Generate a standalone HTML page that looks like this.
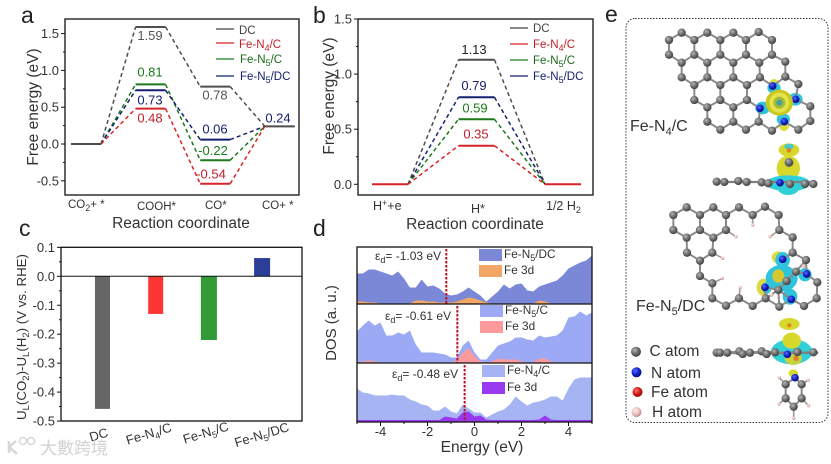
<!DOCTYPE html>
<html lang="en">
<head>
<meta charset="utf-8">
<title>Free energy, limiting potential and DOS figure</title>
<style>
html,body{margin:0;padding:0;background:#fff;}
svg{display:block;font-family:"Liberation Sans",Arial,sans-serif;}
text{fill:#333;}
.panel{font-size:23px;fill:#222;}
.title{font-size:15.5px;}
.tick{font-size:13px;}
.leg{font-size:11.5px;}
</style>
</head>
<body>
<svg id="fig" xmlns="http://www.w3.org/2000/svg" width="831" height="464" viewBox="0 0 831 464">
<defs>
<radialGradient id="gradC" cx="38%" cy="35%" r="70%"><stop offset="0" stop-color="#b5b5b5"/><stop offset=".55" stop-color="#6a6a6a"/><stop offset="1" stop-color="#3c3c3c"/></radialGradient>
<radialGradient id="gradN" cx="38%" cy="35%" r="70%"><stop offset="0" stop-color="#5a6cff"/><stop offset=".55" stop-color="#1020c8"/><stop offset="1" stop-color="#060a70"/></radialGradient>
<radialGradient id="gradFe" cx="38%" cy="35%" r="70%"><stop offset="0" stop-color="#ff7a6a"/><stop offset=".55" stop-color="#d81810"/><stop offset="1" stop-color="#801008"/></radialGradient>
<radialGradient id="gradH" cx="38%" cy="35%" r="70%"><stop offset="0" stop-color="#fff0ee"/><stop offset=".6" stop-color="#e8bcb8"/><stop offset="1" stop-color="#a88480"/></radialGradient>
</defs>

<text class="panel" x="21" y="23">a</text>
<text class="panel" x="313" y="23">b</text>
<text class="panel" x="19" y="236">c</text>
<text class="panel" x="313" y="236">d</text>
<text class="panel" x="605" y="22">e</text>

<!-- panel a -->
<g id="panelA"></g>
<rect x="65" y="19" width="234" height="176" fill="none" stroke="#111" stroke-width="1.3"/>
<text class="title" transform="translate(38,107) rotate(-90)" text-anchor="middle">Free energy (eV)</text>
<text class="title" x="181" y="228" text-anchor="middle">Reaction coordinate</text>
<g font-size="11.5">
<text x="68" y="208">CO<tspan dy="3" font-size="9">2</tspan><tspan dy="-3">+ *</tspan></text>
<text x="137" y="210">COOH*</text>
<text x="205" y="209">CO*</text>
<text x="262" y="209">CO+ *</text>
</g>
<g class="leg">
<line x1="216" x2="234" y1="29" y2="29" stroke="#444" stroke-width="1.2"/>
<line x1="216" x2="234" y1="43" y2="43" stroke="#d8232a" stroke-width="1.2"/>
<line x1="216" x2="234" y1="59" y2="59" stroke="#1a7a1a" stroke-width="1.2"/>
<line x1="216" x2="234" y1="76" y2="76" stroke="#14206e" stroke-width="1.2"/>
<text x="239" y="34" style="fill:#444">DC</text>
<text x="239" y="48" style="fill:#c02028">Fe-N<tspan dy="3" font-size="9" style="fill:#c02028">4</tspan><tspan dy="-3" style="fill:#c02028">/C</tspan></text>
<text x="240" y="63" style="fill:#1a6a1a">Fe-N<tspan dy="3" font-size="9" style="fill:#1a6a1a">5</tspan><tspan dy="-3" style="fill:#1a6a1a">/C</tspan></text>
<text x="240" y="80" style="fill:#14206e">Fe-N<tspan dy="3" font-size="9" style="fill:#14206e">5</tspan><tspan dy="-3" style="fill:#14206e">/DC</tspan></text>
</g>

<!-- panel b -->
<g id="panelB"></g>
<rect x="358" y="19" width="235" height="176" fill="none" stroke="#111" stroke-width="1.3"/>
<text class="title" transform="translate(334,96) rotate(-90)" text-anchor="middle">Free energy (eV)</text>
<text class="title" x="475" y="229" text-anchor="middle">Reaction coordinate</text>
<g font-size="12.5">
<text x="373" y="210">H<tspan dy="-4" font-size="9">+</tspan><tspan dy="4">+e</tspan></text>
<text x="471" y="213">H*</text>
<text x="546" y="210">1/2 H<tspan dy="3" font-size="9">2</tspan></text>
</g>
<g class="leg">
<line x1="510" x2="528" y1="28" y2="28" stroke="#444" stroke-width="1.2"/>
<line x1="510" x2="528" y1="44" y2="44" stroke="#d8232a" stroke-width="1.2"/>
<line x1="510" x2="528" y1="60" y2="60" stroke="#1a7a1a" stroke-width="1.2"/>
<line x1="510" x2="528" y1="76" y2="76" stroke="#14206e" stroke-width="1.2"/>
<text x="533" y="32" style="fill:#444">DC</text>
<text x="533" y="48" style="fill:#c02028">Fe-N<tspan dy="3" font-size="9" style="fill:#c02028">4</tspan><tspan dy="-3" style="fill:#c02028">/C</tspan></text>
<text x="533" y="64" style="fill:#1a6a1a">Fe-N<tspan dy="3" font-size="9" style="fill:#1a6a1a">5</tspan><tspan dy="-3" style="fill:#1a6a1a">/C</tspan></text>
<text x="533" y="80" style="fill:#14206e">Fe-N<tspan dy="3" font-size="9" style="fill:#14206e">5</tspan><tspan dy="-3" style="fill:#14206e">/DC</tspan></text>
</g>

<!-- panel c -->
<g id="panelC"></g>
<rect x="61" y="247.3" width="241" height="173.7" fill="none" stroke="#111" stroke-width="1.3"/>
<text font-size="13.3" transform="translate(26,337) rotate(-90)" text-anchor="middle">U<tspan dy="3" font-size="9.5">L</tspan><tspan dy="-3">(CO</tspan><tspan dy="3" font-size="9.5">2</tspan><tspan dy="-3">)-U</tspan><tspan dy="3" font-size="9.5">L</tspan><tspan dy="-3">(H</tspan><tspan dy="3" font-size="9.5">2</tspan><tspan dy="-3">) (V vs. RHE)</tspan></text>
<g font-size="13">
<text transform="translate(100,439) rotate(-17)" text-anchor="middle">DC</text>
<text transform="translate(150,438) rotate(-17)" text-anchor="middle">Fe-N<tspan dy="3" font-size="9">4</tspan><tspan dy="-3">/C</tspan></text>
<text transform="translate(207,437) rotate(-17)" text-anchor="middle">Fe-N<tspan dy="3" font-size="9">5</tspan><tspan dy="-3">/C</tspan></text>
<text transform="translate(263,439) rotate(-17)" text-anchor="middle">Fe-N<tspan dy="3" font-size="9">5</tspan><tspan dy="-3">/DC</tspan></text>
</g>

<!-- panel d -->
<g id="panelD"></g>
<g fill="none" stroke="#111" stroke-width="1.3">
<rect x="357" y="247" width="235" height="175"/>
<line x1="357" x2="592" y1="304" y2="304"/>
<line x1="357" x2="592" y1="363" y2="363"/>
</g>
<text font-size="15" transform="translate(336,323) rotate(-90)" text-anchor="middle">DOS (a. u.)</text>
<text class="title" x="482" y="452" text-anchor="middle">Energy (eV)</text>
<g font-size="11.8">
<rect x="479" y="249" width="23" height="12" fill="#7b88d8"/>
<rect x="479" y="265" width="23" height="12" fill="#f2a766"/>
<text x="504" y="258">Fe-N<tspan dy="3" font-size="9">5</tspan><tspan dy="-3">/DC</tspan></text>
<text x="504" y="274">Fe 3d</text>
<rect x="480" y="305" width="23" height="12" fill="#9caaf5"/>
<rect x="480" y="321" width="23" height="12" fill="#fd9a9c"/>
<text x="505" y="314">Fe-N<tspan dy="3" font-size="9">5</tspan><tspan dy="-3">/C</tspan></text>
<text x="505" y="330">Fe 3d</text>
<rect x="482" y="365" width="23" height="12" fill="#a6b4f4"/>
<rect x="482" y="382" width="23" height="12" fill="#9a39f2"/>
<text x="507" y="374">Fe-N<tspan dy="3" font-size="9">4</tspan><tspan dy="-3">/C</tspan></text>
<text x="507" y="391">Fe 3d</text>
</g>

<!-- panel e -->
<rect x="626" y="18.5" width="202" height="404" rx="9" fill="none" stroke="#333" stroke-width="1" stroke-dasharray="1.5 1.5"/>
<g transform="translate(650,20) scale(.3333)">
<ellipse cx="372" cy="192" rx="15" ry="15" fill="#dcdc40"/>
<ellipse cx="402" cy="318" rx="15" ry="15" fill="#dcdc40"/>
<ellipse cx="372" cy="204" rx="20" ry="17" fill="#30c4dc"/>
<ellipse cx="436" cy="238" rx="22" ry="19" fill="#30c4dc"/>
<ellipse cx="338" cy="264" rx="22" ry="19" fill="#30c4dc"/>
<ellipse cx="400" cy="298" rx="20" ry="18" fill="#30c4dc"/>
</g>
<g id="molA" transform="translate(650,20) scale(.3333)"></g>
<g transform="translate(650,20) scale(.3333)">
<ellipse cx="388" cy="248" rx="41" ry="39" fill="#c8c820"/>
<ellipse cx="388" cy="248" rx="30" ry="30" fill="#e4e44a"/>
<ellipse cx="388" cy="248" rx="18" ry="18" fill="#a8b838"/>
<circle cx="388" cy="248" r="9" fill="#3fa0a0"/>
</g>
<text font-size="16" x="630" y="131">Fe-N<tspan dy="4" font-size="11">4</tspan><tspan dy="-4">/C</tspan></text>

<g transform="translate(620,0) scale(.3333)">
<ellipse cx="507" cy="450" rx="31" ry="20" fill="#d8d82c"/>
<ellipse cx="507" cy="440" rx="14" ry="9" fill="#48c8c8"/>
<circle cx="507" cy="451" r="7" fill="#e08020"/>
<ellipse cx="505" cy="505" rx="35" ry="38" fill="#d8d82c"/>
<ellipse cx="505" cy="550" rx="66" ry="24" fill="#30d0d8"/>
<ellipse cx="505" cy="565" rx="32" ry="20" fill="#30d0d8"/>
<circle cx="507" cy="488" r="14" fill="#a8a040"/>
<line x1="290" x2="580" y1="546" y2="546" stroke="#808080" stroke-width="7"/>
</g>
<g id="sideA" transform="translate(620,0) scale(.3333)"></g>

<g transform="translate(650,200) scale(.3333)">
<ellipse cx="385" cy="172" rx="20" ry="18" fill="#dcdc40"/>
<ellipse cx="340" cy="262" rx="20" ry="26" fill="#dcdc40"/>
<ellipse cx="398" cy="180" rx="22" ry="24" fill="#30c4dc"/>
<ellipse cx="395" cy="235" rx="48" ry="40" fill="#30c4dc"/>
<ellipse cx="385" cy="228" rx="18" ry="20" fill="#d8c830"/>
<ellipse cx="465" cy="224" rx="20" ry="20" fill="#30c4dc"/>
<ellipse cx="420" cy="290" rx="22" ry="24" fill="#30c4dc"/>
<ellipse cx="350" cy="264" rx="14" ry="18" fill="#30c4dc"/>
</g>
<g id="molB" transform="translate(650,200) scale(.3333)"></g>
<text font-size="16" x="636" y="311">Fe-N<tspan dy="4" font-size="11">5</tspan><tspan dy="-4">/DC</tspan></text>

<g transform="translate(700,310) scale(.3333)">
<ellipse cx="268" cy="42" rx="31" ry="18" fill="#d8d82c"/>
<circle cx="268" cy="46" r="6" fill="#e08020"/>
<ellipse cx="275" cy="125" rx="62" ry="38" fill="#30d0d8"/>
<ellipse cx="275" cy="92" rx="28" ry="24" fill="#d8d82c"/>
<ellipse cx="280" cy="145" rx="26" ry="20" fill="#c8d040"/>
<circle cx="288" cy="145" r="8" fill="#e08020"/>
<ellipse cx="280" cy="190" rx="14" ry="12" fill="#d8d82c"/>
<line x1="50" x2="355" y1="128" y2="128" stroke="#808080" stroke-width="7"/>
</g>
<g id="sideB" transform="translate(700,310) scale(.3333)"></g>

<g font-size="15.5">
<circle cx="636" cy="351.7" r="5" fill="url(#gradC)"/>
<circle cx="636.5" cy="372.3" r="5" fill="url(#gradN)"/>
<circle cx="637.5" cy="392" r="5" fill="url(#gradFe)"/>
<circle cx="636.5" cy="412" r="5" fill="url(#gradH)"/>
<text x="649.5" y="356">C atom</text>
<text x="651" y="378">N atom</text>
<text x="651" y="397">Fe atom</text>
<text x="652" y="417">H atom</text>
</g>

<g>
<path d="M9 441 v12 M9 447 l7 -6 M9 447 l8 7" fill="none" stroke="#d8d8d8" stroke-width="2.5"/>
<circle cx="23" cy="441" r="3.5" fill="none" stroke="#d8d8d8" stroke-width="1.6"/>
<circle cx="31" cy="441" r="3.5" fill="none" stroke="#d8d8d8" stroke-width="1.6"/>
<text x="40" y="454" font-size="17" style="fill:#d2d2d2;font-family:'Liberation Sans','Noto Sans CJK TC',sans-serif">大數跨境</text>
</g>
</svg>

<script>
/* ---------- panel a data ---------- */
var stepCountA = ["CO2+*", "COOH*", "CO*", "CO+*"];
var aDC = [0, 1.59, 0.78, 0.24];
var aFeN4C = [0, 0.48, -0.54, 0.24];
var aFeN5C = [0, 0.81, -0.22, 0.24];
var aFeN5DC = [0, 0.73, 0.06, 0.24];
var aTicks = ["-0.5", "0.0", "0.5", "1.0", "1.5"];

/* ---------- panel b data ---------- */
var stepCountB = ["H+ + e", "H*", "1/2 H2"];
var bDC = [0, 1.13, 0];
var bFeN4C = [0, 0.35, 0];
var bFeN5C = [0, 0.59, 0];
var bFeN5DC = [0, 0.79, 0];
var bPrinted = ["1.13", "0.35", "0.59", "0.79"];
var bTicks = ["0.0", "0.5", "1.0", "1.5"];

/* ---------- panel c data ---------- */
var cCategories = ["DC", "Fe-N4/C", "Fe-N5/C", "Fe-N5/DC"];
var cValues = [-0.458, -0.13, -0.22, 0.063];
var cTicks = ["-0.5", "-0.4", "-0.3", "-0.2", "-0.1", "0.0", "0.1"];

/* ---------- panel d data ---------- */
var energy = [-5,-4.75,-4.5,-4.25,-4,-3.75,-3.5,-3.25,-3,-2.75,-2.5,-2.25,-2,-1.75,-1.5,-1.25,-1,-0.75,-0.5,-0.25,0,0.25,0.5,0.75,1,1.25,1.5,1.75,2,2.25,2.5,2.75,3,3.25,3.5,3.75,4,4.25,4.5,4.75,5];
var dosFeN5DC = [30,30,34,34,32,30,28,32,25,16,16,24,17,18,15,10,8,9,12,16,12,8,2,7,12,19,15,19,20,13,12,17,19,21,23,28,35,38,41,43,48];
var d3dFeN5DC = [2,2,1,1,0,0,0,0,0,0,3,3,2,2,1,1,1,2,4,6,5,3,1,0,0,0,0,0,0,0,0,3,2,0,0,0,0,0,0,0,0];
var dosFeN5C = [31,37,42,37,40,27,27,30,28,32,18,10,10,10,9,8,5,5,17,22,10,3,3,10,17,19,21,25,25,23,22,27,25,26,27,32,45,46,51,47,50];
var d3dFeN5C = [0,1,2,1,0,0,0,0,0,0,0,0,0,0,0,0,0,2,10,14,6,1,0,1,4,3,3,3,1,0,0,4,4,1,0,0,0,0,0,0,0];
var dosFeN4C = [33,29,28,26,26,26,27,26,26,22,20,17,16,11,11,15,10,8,17,13,9,9,4,7,10,12,17,25,20,16,19,20,22,25,25,21,33,42,44,44,44];
var d3dFeN4C = [1.5,1.5,1.5,1.5,1.5,1.5,1.5,1.5,1.5,1.5,1.5,1.5,1.5,1.5,1.5,5,4,3,9,10,5,6,2,1.5,1.5,1.5,1.5,1.5,1.5,1.5,1.5,2,6,2,1.5,1.5,1.5,1.5,1.5,1.5,1.5];
var dTicks = ["-4", "-2", "0", "2", "4"];
var dPrintedCenters = ["-1.03", "-0.61", "-0.48"];
var dMarkerEnergies = [-1.2, -0.73, -0.42];

var NS = "http://www.w3.org/2000/svg";
function mk(tag, parent, attrs, txt) {
  var el = document.createElementNS(NS, tag);
  for (var k in attrs) el.setAttribute(k, attrs[k]);
  if (txt !== undefined) el.textContent = txt;
  parent.appendChild(el);
  return el;
}

/* axis functions */
function yA(v) { return 144 - 73.6 * v; }
function xA(i) { return 71 + 64.6 * i; }
function yB(v) { return 184.3 - 110.2 * v; }
function xB(i) { return 372 + 86.5 * i; }
function yC(v) { return 276.3 - 289.5 * v; }
function xC(i) { return 102.5 + 53.2 * i; }
function xD(en) { return 474.5 + 23.5 * en; }
var dBase = [303.5, 362.5, 421.5];
function yD(p, v) { return dBase[p] - v; }

/* ---------- energy ladders ---------- */
function ladder(group, vals, color, xf, yf, w, levelFrom, levelTo) {
  for (var i = 0; i < vals.length - 1; i++) {
    var dash = mk("line", group, {x1: xf(i) + w, y1: yf(vals[i]), x2: xf(i + 1), y2: yf(vals[i + 1]), stroke: color, "stroke-width": 1.5, "stroke-dasharray": "4 3"});
    
    
  }
  for (var j = levelFrom; j <= levelTo; j++) {
    var lev = mk("line", group, {x1: xf(j), y1: yf(vals[j]), x2: xf(j) + w, y2: yf(vals[j]), stroke: color, "stroke-width": 2});
    
    
  }
}
function valueLabel(group, x, y, str, color, size) {
  var t = mk("text", group, {x: x, y: y, "text-anchor": "middle", "font-size": size});
  t.textContent = str;
  t.style.fill = color;
  
  
}
var groupA = document.getElementById("panelA");
var cGray = "#4e4e4e", cRed = "#d8232a", cGreen = "#1a7a1a", cNavy = "#14206e";
ladder(groupA, aDC, cGray, xA, yA, 30, 1, 2);
ladder(groupA, aFeN5C, cGreen, xA, yA, 30, 1, 2);
ladder(groupA, aFeN5DC, cNavy, xA, yA, 30, 1, 2);
ladder(groupA, aFeN4C, cRed, xA, yA, 30, 1, 2);
var l0 = mk("line", groupA, {x1: xA(0), x2: xA(0) + 30, y1: yA(aDC[0]), y2: yA(aDC[0]), stroke: cGray, "stroke-width": 2});


var l3 = mk("line", groupA, {x1: xA(3), x2: xA(3) + 30, y1: yA(aDC[3]), y2: yA(aDC[3]), stroke: cGray, "stroke-width": 2});


valueLabel(groupA, 150, yA(aDC[1]) + 13, aDC[1].toFixed(2), "#555", 13);
valueLabel(groupA, 150, yA(aFeN5C[1]) - 8, aFeN5C[1].toFixed(2), cGreen, 13);
valueLabel(groupA, 150, yA(aFeN5DC[1]) + 14, aFeN5DC[1].toFixed(2), cNavy, 13);
valueLabel(groupA, 150, yA(aFeN4C[1]) + 14, aFeN4C[1].toFixed(2), "#c02028", 13);
valueLabel(groupA, 215, yA(aDC[2]) + 13, aDC[2].toFixed(2), "#555", 13);
valueLabel(groupA, 215, yA(aFeN5DC[2]) - 6, aFeN5DC[2].toFixed(2), cNavy, 13);
valueLabel(groupA, 213, yA(aFeN5C[2]) - 5, aFeN5C[2].toFixed(2), cGreen, 13);
valueLabel(groupA, 211, yA(aFeN4C[2]) - 5, aFeN4C[2].toFixed(2), "#c02028", 13);
valueLabel(groupA, 278, yA(aDC[3]) - 4, aDC[3].toFixed(2), cNavy, 13);

function yAxis(group, labels, yf, xLeft, len, minorLen, minorStep, size, textGap) {
  for (var i = 0; i < labels.length; i++) {
    var v = parseFloat(labels[i]);
    var tick = mk("line", group, {x1: xLeft - len, x2: xLeft, y1: yf(v), y2: yf(v), stroke: "#111", "stroke-width": 1});
    
    
    var lab = mk("text", group, {x: xLeft - textGap, y: yf(v) + 4.5, "text-anchor": "end", "font-size": size}, labels[i]);
    
    
    if (i < labels.length - 1) {
      var mv = v + minorStep;
      var minor = mk("line", group, {x1: xLeft - minorLen, x2: xLeft, y1: yf(mv), y2: yf(mv), stroke: "#111", "stroke-width": 1});
      
      
    }
  }
}
yAxis(groupA, aTicks, yA, 65, 4, 2, 0.25, 13, 6);

var groupB = document.getElementById("panelB");
ladder(groupB, bDC, cGray, xB, yB, 36, 1, 1);
ladder(groupB, bFeN5DC, cNavy, xB, yB, 36, 1, 1);
ladder(groupB, bFeN5C, cGreen, xB, yB, 36, 1, 1);
ladder(groupB, bFeN4C, cRed, xB, yB, 36, 0, 2);
valueLabel(groupB, 474, yB(bDC[1]) - 6, bPrinted[0], "#222", 13);
valueLabel(groupB, 476, yB(bFeN4C[1]) - 7, bPrinted[1], "#c02028", 13);
valueLabel(groupB, 475, yB(bFeN5C[1]) - 7, bPrinted[2], cGreen, 13);
valueLabel(groupB, 474, yB(bFeN5DC[1]) - 7, bPrinted[3], cNavy, 13);
yAxis(groupB, bTicks, yB, 358, 4, 2, 0.25, 13, 6);

/* ---------- panel c bars ---------- */
var groupC = document.getElementById("panelC");
var barColors = ["#666666", "#fb3434", "#329a36", "#2c3f98"];
var barWidths = [15, 15, 16, 16];
for (var bi = 0; bi < cValues.length; bi++) {
  var barTop = Math.min(yC(0), yC(cValues[bi]));
  var barHeight = Math.abs(yC(cValues[bi]) - yC(0));
  var bar = mk("rect", groupC, {x: xC(bi) - barWidths[bi] / 2, y: barTop, width: barWidths[bi], height: barHeight, fill: barColors[bi]});
  
  
}
var zero = mk("line", groupC, {x1: 61, x2: 302, y1: yC(0), y2: yC(0), stroke: "#111", "stroke-width": 1});


yAxis(groupC, cTicks, yC, 61, 4, 2, 0.05, 13, 6);

/* ---------- panel d DOS ---------- */
var groupD = document.getElementById("panelD");
function area(panel, vals, fill) {
  var d = "M" + xD(energy[0]) + " " + yD(panel, 0);
  for (var i = 0; i < energy.length; i++) d += "L" + xD(energy[i]) + " " + yD(panel, vals[i]);
  d += "L" + xD(energy[energy.length - 1]) + " " + yD(panel, 0) + "Z";
  var p = mk("path", groupD, {d: d, fill: fill});
  
  
}
area(0, dosFeN5DC, "#7b88d8");
area(0, d3dFeN5DC, "#f2a766");
area(1, dosFeN5C, "#9caaf5");
area(1, d3dFeN5C, "#fd9a9c");
area(2, dosFeN4C, "#a6b4f4");
area(2, d3dFeN4C, "#9a39f2");
var markerTop = [249, 306, 365];
var labelX = [375, 385, 392];
var labelY = [260, 320, 378];
for (var m = 0; m < dMarkerEnergies.length; m++) {
  var ml = mk("line", groupD, {x1: xD(dMarkerEnergies[m]), x2: xD(dMarkerEnergies[m]), y1: markerTop[m], y2: dBase[m], stroke: "#c01020", "stroke-width": 2, "stroke-dasharray": "2.5 1.5"});
  
  
  var et = mk("text", groupD, {x: labelX[m], y: labelY[m], "font-size": 12});
  
  
  mk("tspan", et, {}, "\u03B5");
  mk("tspan", et, {dy: 3, "font-size": 9}, "d");
  mk("tspan", et, {dy: -3}, "= " + dPrintedCenters[m] + " eV");
}
for (var en = -5; en <= 5; en++) {
  var isMajor = dTicks.indexOf(String(en)) >= 0;
  var tk = mk("line", groupD, {x1: xD(en), x2: xD(en), y1: 422, y2: isMajor ? 426 : 424, stroke: "#111", "stroke-width": 1});
  
  
}
for (var q = 0; q < dTicks.length; q++) {
  var tl = mk("text", groupD, {x: xD(parseFloat(dTicks[q])), y: 436, "text-anchor": "middle", "font-size": 13}, dTicks[q]);
  
  
}

/* ---------- panel e molecules ---------- */
function molecule(groupId, carbons, nitrogens, hydrogens, rC, rH, limit) {
  var g = document.getElementById(groupId);
  var all = carbons.concat(nitrogens);
  for (var a = 0; a < all.length; a++) {
    for (var b = a + 1; b < all.length; b++) {
      var dx = all[a][0] - all[b][0], dy = all[a][1] - all[b][1];
      if (dx * dx + dy * dy < limit * limit) {
        var bond = mk("line", g, {x1: all[a][0], y1: all[a][1], x2: all[b][0], y2: all[b][1], stroke: "#8a8a8a", "stroke-width": 6});
        
        
      }
    }
  }
  hydrogens.forEach(function (h) {
    var best = all[0], bestD = 1e9;
    all.forEach(function (o) {
      var dd = (o[0] - h[0]) * (o[0] - h[0]) + (o[1] - h[1]) * (o[1] - h[1]);
      if (dd < bestD) { bestD = dd; best = o; }
    });
    var hb = mk("line", g, {x1: h[0], y1: h[1], x2: best[0], y2: best[1], stroke: "#a89a98", "stroke-width": 5});
    
    
  });
  hydrogens.forEach(function (h) {
    var n = mk("circle", g, {cx: h[0], cy: h[1], r: rH, fill: "url(#gradH)"});
    
    
  });
  carbons.forEach(function (c) {
    var n = mk("circle", g, {cx: c[0], cy: c[1], r: rC, fill: "url(#gradC)"});
    
    
  });
  nitrogens.forEach(function (c) {
    var n = mk("circle", g, {cx: c[0], cy: c[1], r: rC - 1, fill: "url(#gradN)"});
    
    
  });
}
molecule("molA",
  [[57,60],[95,38],[133,60],[172,38],[211,60],[250,38],[288,60],[326,36],[366,60],
   [57,104],[95,128],[133,104],[172,128],[211,104],[250,128],[288,104],[328,128],[366,104],[406,125],
   [95,172],[133,195],[172,172],[211,195],[250,172],[291,195],[330,172],[406,170],[445,192],
   [133,240],[172,262],[211,240],[250,262],[291,240],[481,259],[481,303],
   [172,305],[211,329],[250,305],[288,329],[326,305],[366,332],[445,329]],
  [[368,198],[437,238],[330,265],[403,305]],
  [], 12.5, 5, 56);
molecule("molB",
  [[110,22],[190,22],[267,22],[345,20],[70,45],[150,45],[228,45],[308,45],[386,45],
   [70,90],[150,90],[228,90],[110,113],[190,113],[388,90],[428,112],
   [111,158],[187,158],[150,182],[428,158],[468,180],[150,228],[187,250],[187,295],
   [228,317],[267,295],[308,318],[347,295],[388,320],[462,318],[500,295],[502,247],
   [410,243],[438,215],[385,270]],
  [[345,262],[398,178],[470,222],[424,298]],
  [[258,110],[218,175],[308,75],[360,110],[217,235],[270,263],[460,198],[365,285]], 12.5, 5, 52);
molecule("sideA",
  [[290,545],[313,546],[355,543],[380,546],[425,547],[445,550],[510,552],[555,552],[580,552],[507,487]],
  [[480,548]],
  [], 12.5, 5, 1);
molecule("sideB",
  [[50,128],[60,128],[82,128],[118,124],[128,132],[150,128],[185,124],[200,132],[225,127],[292,126],[340,127],
   [257,223],[305,223],[257,265],[305,265],[281,290]],
  [[262,133],[285,203]],
  [[238,203],[325,210],[237,282],[326,287],[281,325]], 12.5, 5, 48);
</script>
</body>
</html>
